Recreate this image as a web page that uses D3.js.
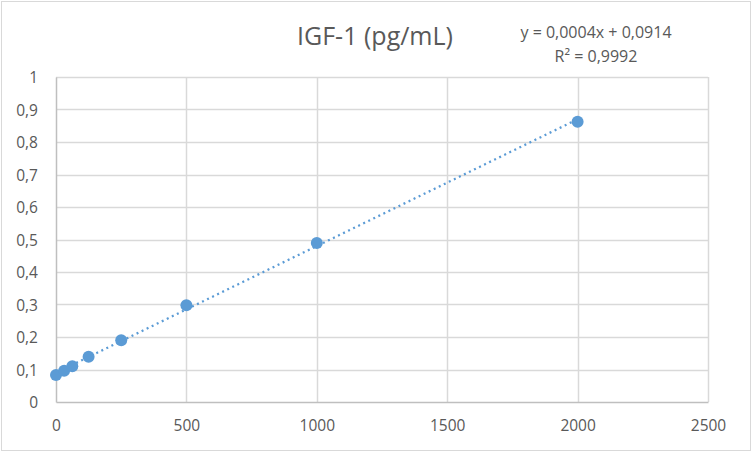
<!DOCTYPE html>
<html>
<head>
<meta charset="utf-8">
<script src="https://cdn.jsdelivr.net/npm/d3@7"></script>
<style>
  body { margin: 0; background: #fff; }
  text { font-family: "Open Sans", "Noto Sans", sans-serif; fill: #595959; }
</style>
</head>
<body>
<div id="chart"></div>
<script>
// concentrations (pg/mL) and measured absorbance
var concentrations = [0, 31.25, 62.5, 125, 250, 500, 1000, 2000];
var absorbance = [0.083, 0.096, 0.11, 0.139, 0.19, 0.298, 0.489, 0.862];
var xTicks = [0, 500, 1000, 1500, 2000, 2500];
var yTicks = [0, 0.1, 0.2, 0.3, 0.4, 0.5, 0.6, 0.7, 0.8, 0.9, 1];
var title = "IGF-1 (pg/mL)";
var equationText = "y = 0,0004x + 0,0914";
var r2Text = "R² = 0,9992";

var svgWidth = 752;
var svgHeight = 452;

var margin = { top: 77, right: 44, bottom: 50, left: 56 };
var width = svgWidth - margin.left - margin.right;
var height = svgHeight - margin.top - margin.bottom;

var svg = d3.select("#chart")
  .append("svg")
  .attr("width", svgWidth)
  .attr("height", svgHeight);

// outer chart border
svg.append("rect")
  .attr("x", 1.5)
  .attr("y", 1.5)
  .attr("width", svgWidth - 3)
  .attr("height", svgHeight - 3)
  .attr("fill", "#fff")
  .attr("stroke", "#d9d9d9");

var chartGroup = svg.append("g")
  .attr("transform", `translate(${margin.left}, ${margin.top})`);

var xScale = d3.scaleLinear().domain([0, 2500]).range([0, width]);
var yScale = d3.scaleLinear().domain([0, 1]).range([height, 0]);

var decimalComma = function(d) {
  return String(+d.toFixed(1)).replace(".", ",");
};

// gridlines
chartGroup.append("g")
  .selectAll("line")
  .data(yTicks.slice(1))
  .enter()
  .append("line")
  .attr("x1", 0)
  .attr("x2", width)
  .attr("y1", d => Math.round(yScale(d)) + 0.5)
  .attr("y2", d => Math.round(yScale(d)) + 0.5)
  .attr("stroke", "#d9d9d9")
  .attr("stroke-width", 1.5);

chartGroup.append("g")
  .selectAll("line")
  .data(xTicks.slice(1))
  .enter()
  .append("line")
  .attr("x1", d => Math.round(xScale(d)) + 0.5)
  .attr("x2", d => Math.round(xScale(d)) + 0.5)
  .attr("y1", 0)
  .attr("y2", height)
  .attr("stroke", "#d9d9d9")
  .attr("stroke-width", 1.5);

// axes
var bottomAxis = d3.axisBottom(xScale).tickValues(xTicks).tickSize(0).tickPadding(18)
  .tickFormat(d => String(d));
var leftAxis = d3.axisLeft(yScale).tickValues(yTicks).tickSize(0).tickPadding(18)
  .tickFormat(decimalComma);

var xAxisG = chartGroup.append("g")
  .attr("transform", `translate(0, ${height})`)
  .call(bottomAxis);
var yAxisG = chartGroup.append("g")
  .call(leftAxis);

[xAxisG, yAxisG].forEach(function(g) {
  g.select(".domain").attr("stroke", "#bfbfbf").attr("stroke-width", 1.5);
  g.selectAll("text")
    .attr("fill", "#595959")
    .style("font-size", "15.5px")
    .style("font-family", "'Open Sans', 'Noto Sans', sans-serif");
});
yAxisG.selectAll("text").attr("dy", "0.36em");

// least squares trendline
var mx = d3.mean(concentrations);
var my = d3.mean(absorbance);
var sxy = d3.sum(concentrations, (x, i) => (x - mx) * (absorbance[i] - my));
var sxx = d3.sum(concentrations, x => (x - mx) * (x - mx));
var slope = sxy / sxx;
var intercept = my - slope * mx;
var xExtent = d3.extent(concentrations);

var trendLine = d3.line()
  .x(d => xScale(d))
  .y(d => yScale(slope * d + intercept));

chartGroup.append("path")
  .datum(xExtent)
  .attr("d", trendLine)
  .attr("fill", "none")
  .attr("stroke", "#5b9bd5")
  .attr("stroke-width", 2.25)
  .attr("stroke-dasharray", "2,3.6");

// points
chartGroup.selectAll("circle")
  .data(concentrations)
  .enter()
  .append("circle")
  .attr("cx", d => xScale(d))
  .attr("cy", (d, i) => yScale(absorbance[i]))
  .attr("r", 6)
  .attr("fill", "#5b9bd5");

// title
svg.append("text")
  .attr("x", 375)
  .attr("y", 45)
  .attr("text-anchor", "middle")
  .style("font-size", "25px")
  .text(title);

// trendline label
svg.append("text")
  .attr("x", 596)
  .attr("y", 38)
  .attr("text-anchor", "middle")
  .style("font-size", "16px")
  .text(equationText);
svg.append("text")
  .attr("x", 596)
  .attr("y", 62)
  .attr("text-anchor", "middle")
  .style("font-size", "16px")
  .text(r2Text);
</script>
</body>
</html>
